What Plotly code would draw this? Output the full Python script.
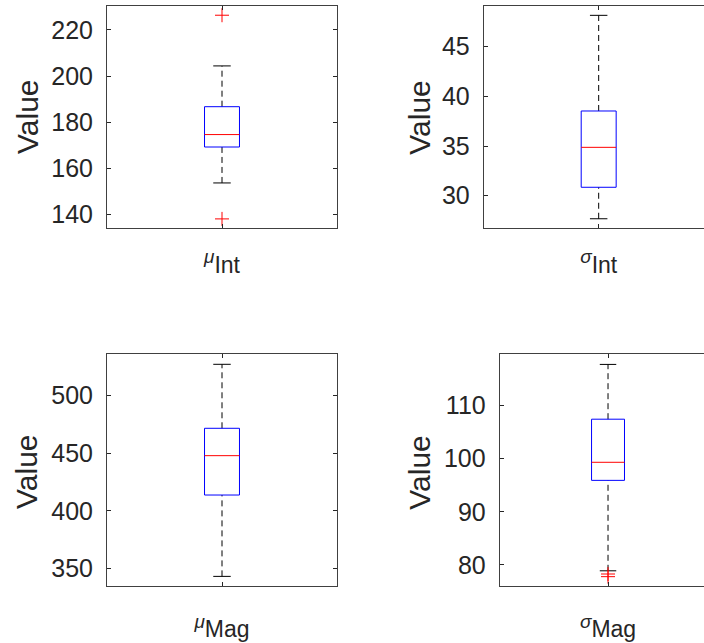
import plotly.graph_objects as go

# ---------------- data ----------------
SYM = "<sup><span style='font-size:19px'><i>{}</i></span></sup>{}"
tick_labels = [SYM.format("μ", "Int"), SYM.format("σ", "Int"),
               SYM.format("μ", "Mag"), SYM.format("σ", "Mag")]
q1 = [169.2, 30.85, 413.7, 95.9]
medians = [174.6, 34.87, 447.9, 99.3]
q3 = [186.7, 38.53, 471.7, 107.4]
lower_whisker = [153.6, 27.68, 343.0, 78.9]
upper_whisker = [204.4, 48.16, 527.3, 117.7]
outliers = [[226.4, 138.0], [], [], [78.3, 77.8]]
y_ticks = [[140, 160, 180, 200, 220], [30, 35, 40, 45],
           [350, 400, 450, 500], [80, 90, 100, 110]]
y_title = "Value"

# ---------------- layout / style ----------------
W, H = 704, 643
# panel rectangles in pixels: left, right, top, bottom
panels = [(107, 337, 6, 228), (483.7, 704, 6, 228),
          (107, 337, 354.3, 585.7), (499.7, 704, 354.3, 585.7)]
x_ranges = [[-0.5, 0.5], [-0.5, 0.458], [-0.5, 0.5], [-0.5, 0.443]]
y_ranges = [[134.05, 230.4], [26.75, 49.1], [334.9, 536.0], [76.1, 119.6]]
ytitle_pos = [(27, 117), (418.7, 117), (26, 472), (418.7, 472)]
x_standoff = [16, 16, 23, 23]
y_mirror = ["ticks", False, "ticks", False]   # right panels are cut at the page edge

FONT = "Liberation Sans, Arial, sans-serif"
AX = "#262626"
BOX_HW = 0.076
CAP_HW = 0.038

fig = go.Figure()
layout = dict(width=W, height=H, margin=dict(l=0, r=0, t=0, b=0),
              paper_bgcolor="white", plot_bgcolor="white", showlegend=False,
              font=dict(family=FONT, color=AX))
annotations = []

for i in range(4):
    n = "" if i == 0 else str(i + 1)
    xa, ya = "x" + n, "y" + n
    L, R, T, B = panels[i]
    layout["xaxis" + n] = dict(
        domain=[L / W, R / W], range=x_ranges[i], anchor=ya,
        tickvals=[0], ticktext=[tick_labels[i]], ticks="inside", ticklen=4,
        tickcolor=AX, showline=True, linecolor="#404040", linewidth=1,
        mirror="ticks", showgrid=False, zeroline=False,
        tickfont=dict(size=23, family=FONT, color=AX),
        ticklabelstandoff=x_standoff[i], fixedrange=True)
    layout["yaxis" + n] = dict(
        domain=[1 - B / H, 1 - T / H], range=y_ranges[i], anchor=xa,
        tickvals=y_ticks[i], ticks="inside", ticklen=4, tickcolor=AX,
        showline=True, linecolor="#404040", linewidth=1, mirror=y_mirror[i],
        showgrid=False, zeroline=False,
        tickfont=dict(size=25, family=FONT, color=AX), ticklabelstandoff=8,
        fixedrange=True)
    tx, ty = ytitle_pos[i]
    annotations.append(dict(text=y_title, xref="paper", yref="paper",
                            x=tx / W, y=1 - ty / H, showarrow=False,
                            textangle=-90, xanchor="center", yanchor="middle",
                            font=dict(size=30, family=FONT, color=AX)))

    # whiskers (dashed)
    fig.add_trace(go.Scatter(x=[0, 0, None, 0, 0],
                             y=[q3[i], upper_whisker[i], None, lower_whisker[i], q1[i]],
                             mode="lines", line=dict(color="black", width=1, dash="6px,4px"),
                             xaxis=xa, yaxis=ya, hoverinfo="skip"))
    # caps
    fig.add_trace(go.Scatter(x=[-CAP_HW, CAP_HW, None, -CAP_HW, CAP_HW],
                             y=[upper_whisker[i], upper_whisker[i], None,
                                lower_whisker[i], lower_whisker[i]],
                             mode="lines", line=dict(color="black", width=1),
                             xaxis=xa, yaxis=ya, hoverinfo="skip"))
    # box
    fig.add_trace(go.Scatter(x=[-BOX_HW, BOX_HW, BOX_HW, -BOX_HW, -BOX_HW],
                             y=[q1[i], q1[i], q3[i], q3[i], q1[i]],
                             mode="lines", line=dict(color="#0000ff", width=1),
                             xaxis=xa, yaxis=ya, hoverinfo="skip"))
    # median
    fig.add_trace(go.Scatter(x=[-BOX_HW, BOX_HW], y=[medians[i], medians[i]],
                             mode="lines", line=dict(color="#ff0000", width=1),
                             xaxis=xa, yaxis=ya, hoverinfo="skip"))
    # outliers
    if outliers[i]:
        fig.add_trace(go.Scatter(x=[0] * len(outliers[i]), y=outliers[i],
                                 mode="markers",
                                 marker=dict(symbol="cross-thin", size=10,
                                             line=dict(color="#ff0000", width=1)),
                                 xaxis=xa, yaxis=ya, hoverinfo="skip",
                                 cliponaxis=False))

layout["annotations"] = annotations
fig.update_layout(**layout)
fig.write_html("out.html", config={"displayModeBar": False},
               post_script="document.body.style.margin='0';document.body.style.overflow='hidden';")
